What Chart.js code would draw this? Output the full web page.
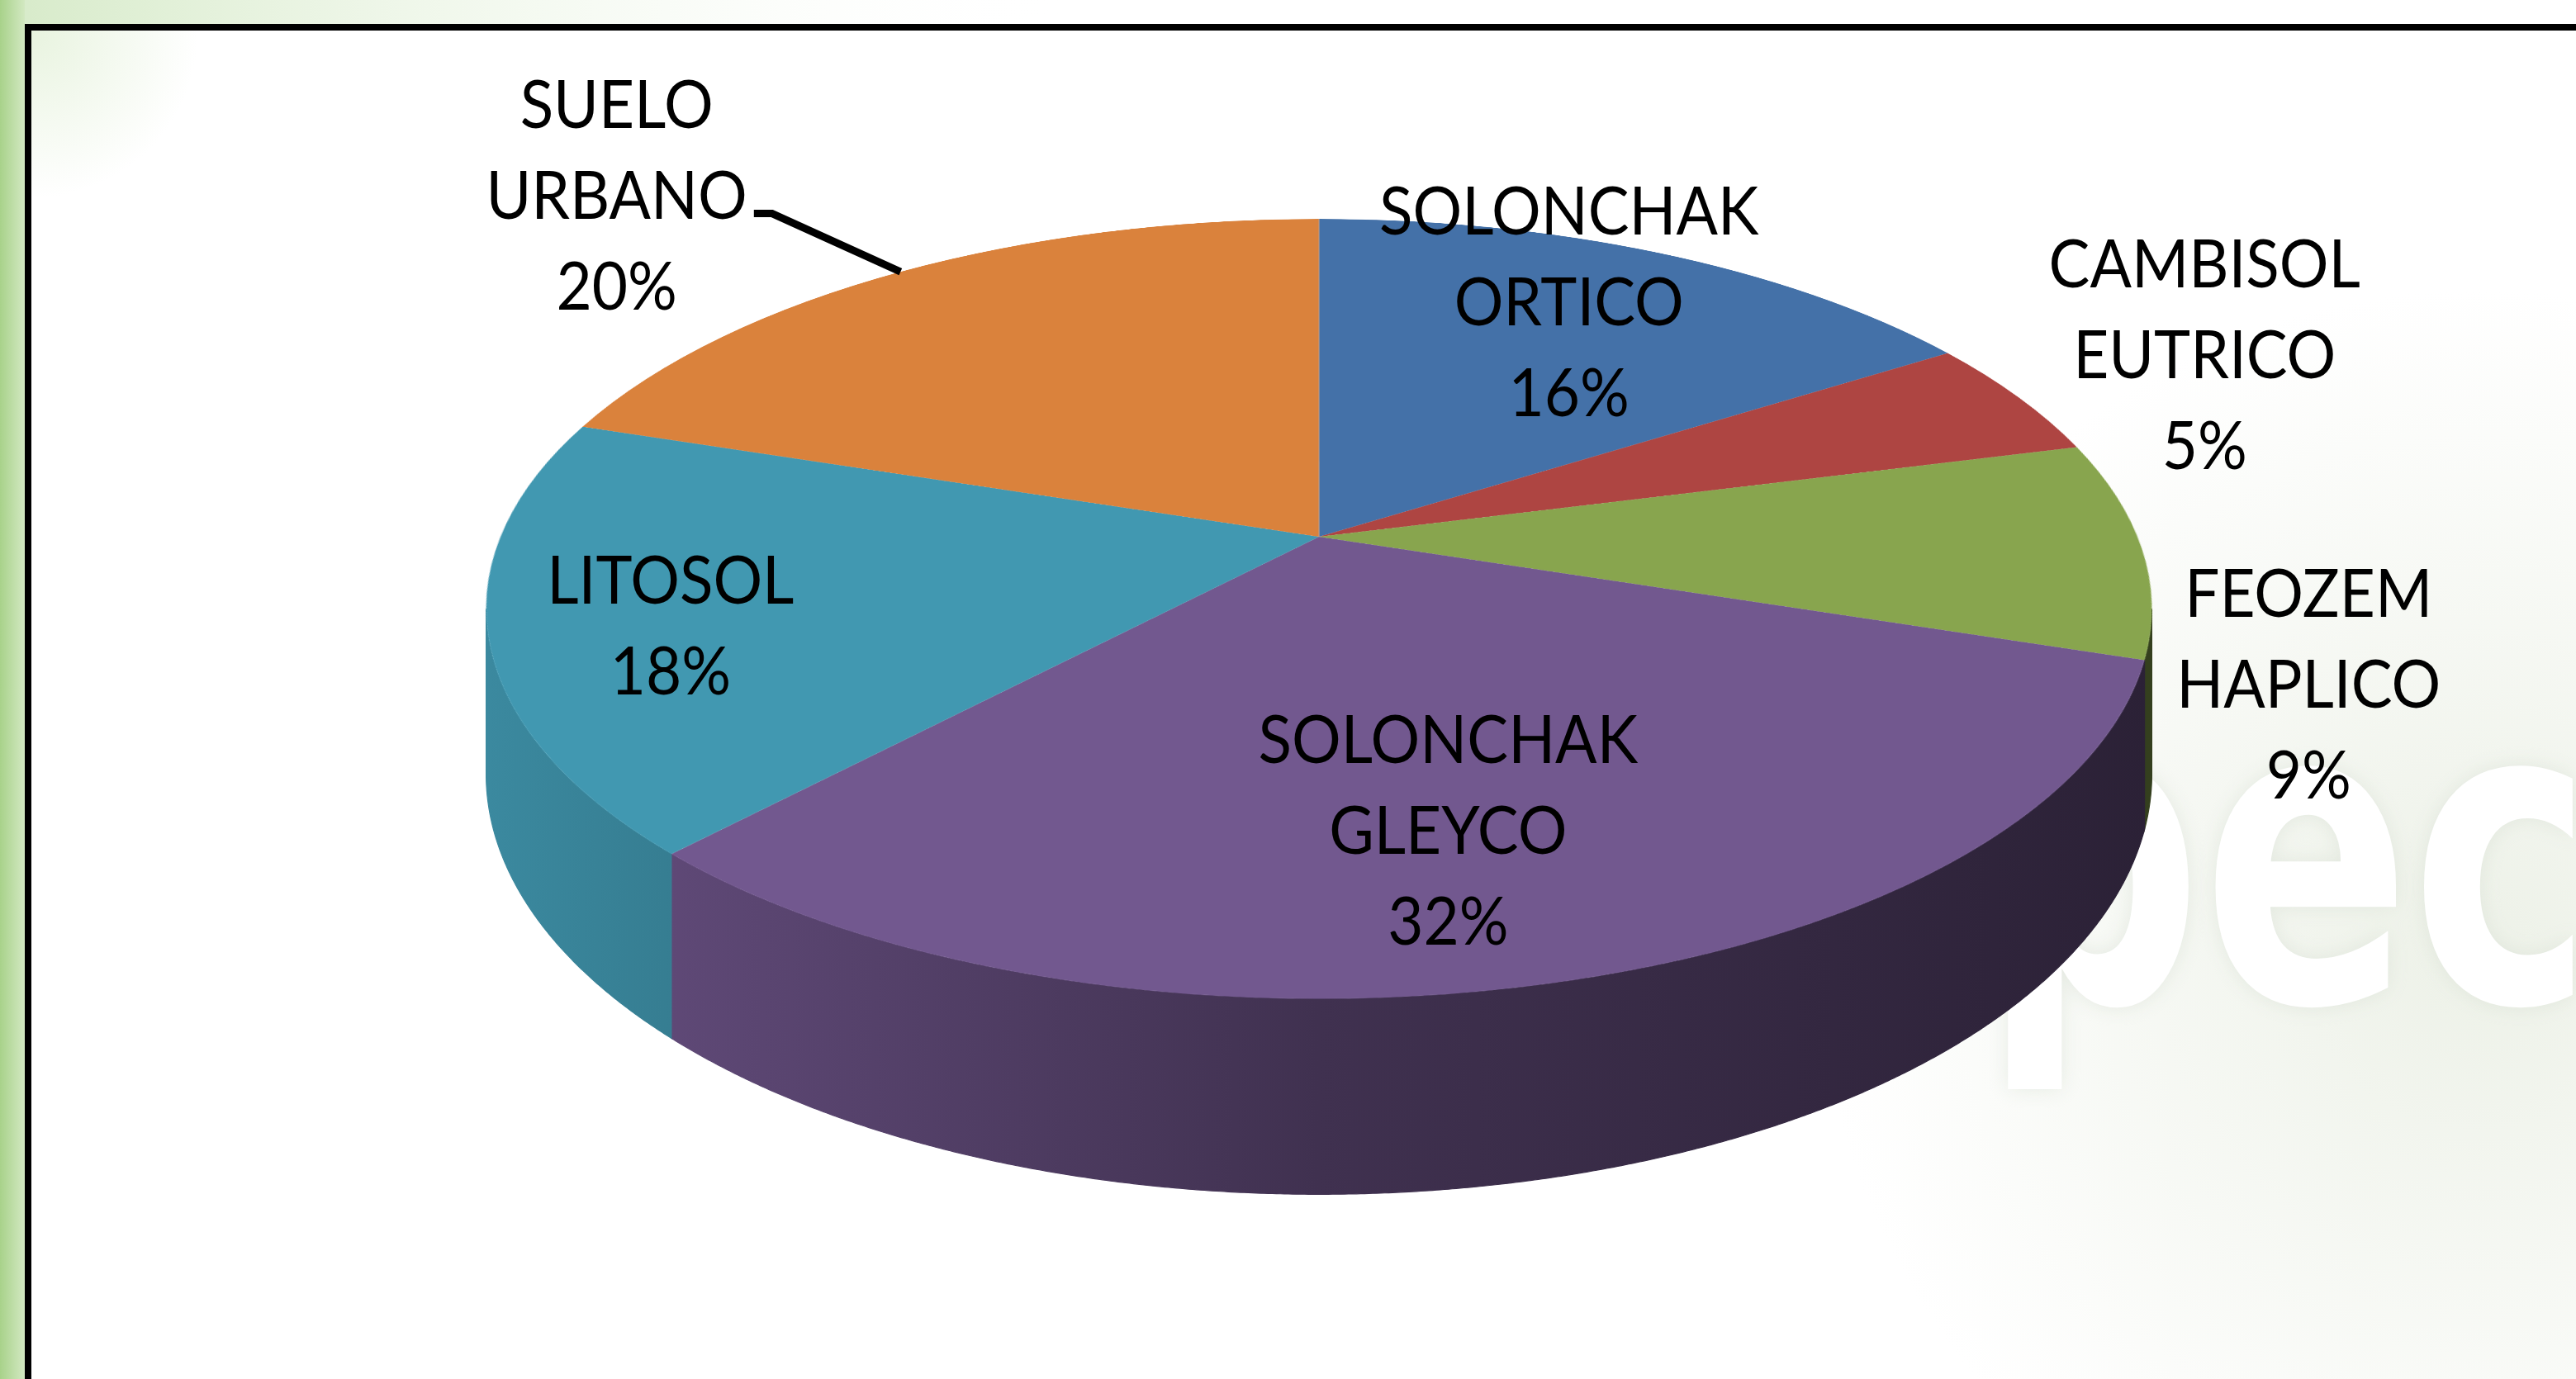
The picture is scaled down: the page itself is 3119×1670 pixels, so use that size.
<!DOCTYPE html>
<html>
<head>
<meta charset="utf-8">
<style>
  html, body { margin: 0; padding: 0; background: #ffffff; }
  #wrap { position: relative; width: 3119px; height: 1670px; overflow: hidden; }
  canvas { position: absolute; left: 0; top: 0; }
</style>
<script src="https://cdn.jsdelivr.net/npm/chart.js@4/dist/chart.umd.min.js"></script>
</head>
<body>
<div id="wrap"><canvas id="c" width="3119" height="1670"></canvas></div>
<script>
// ---------------- DATA ----------------
const categories = ['SOLONCHAK ORTICO', 'CAMBISOL EUTRICO', 'FEOZEM HAPLICO', 'SOLONCHAK GLEYCO', 'LITOSOL', 'SUELO URBANO'];
const labelLines = [['SOLONCHAK', 'ORTICO'], ['CAMBISOL', 'EUTRICO'], ['FEOZEM', 'HAPLICO'], ['SOLONCHAK', 'GLEYCO'], ['LITOSOL'], ['SUELO', 'URBANO']];
const percentages = [16, 5, 9, 32, 18, 20];

// ---------------- STYLE / LAYOUT ----------------
const sliceColors = ['#4471a8', '#ae4542', '#88a54e', '#72588f', '#4198b1', '#da823c'];
// perspective view of the pie: apex (cx, cy), radii, tilt k and side depth (screen px at w = 1)
const VIEW = { cx: 1597, cy: 650, rx: 991, ry: 456, k: 0.185, depth: 193 };
const FONT = '82px Lato, "Open Sans", sans-serif';
const TEXT_SCALE_X = 0.91;
const LINE_H = 110;
const labelOutside = [false, true, true, false, false, true];
const labelFactor = { inside: 0.65, outside: 1.25 };
const labelNudge = [[22, -47], [31, -11], [-49, 163], [-25, 33], [-142, 34], [-237, -23]];
const leaderFor = [false, false, false, false, false, true];

function shade(hex, f) {
  const n = parseInt(hex.slice(1), 16);
  const r = Math.round(((n >> 16) & 255) * f), g = Math.round(((n >> 8) & 255) * f), b = Math.round((n & 255) * f);
  return `rgb(${r},${g},${b})`;
}

// project a point of the (unit) pie disc, given by its angle and radial fraction, to the screen
function project(angle, f) {
  const u = f * Math.cos(angle), v = f * Math.sin(angle);
  const w = 1 - VIEW.k * v;
  return { x: VIEW.cx + VIEW.rx * u / w, y: VIEW.cy + VIEW.ry * v / w, w: w };
}

function paintBackground(ctx, W, H) {
  ctx.fillStyle = '#ffffff';
  ctx.fillRect(0, 0, W, H);
  let g = ctx.createRadialGradient(3000, 1150, 50, 3000, 1150, 800);
  g.addColorStop(0, 'rgba(238,242,233,1)');
  g.addColorStop(1, 'rgba(238,242,233,0)');
  ctx.fillStyle = g;
  ctx.fillRect(2000, 300, W - 2000, H - 300);
  ctx.save();
  ctx.fillStyle = '#ffffff';
  ctx.shadowColor = 'rgba(210,218,205,0.5)';
  ctx.shadowBlur = 26;
  ctx.font = 'bold 510px "DejaVu Sans", sans-serif';
  ctx.textBaseline = 'alphabetic';
  ctx.textAlign = 'left';
  ctx.translate(2400, 1213);
  ctx.scale(0.73, 1);
  ctx.fillText('pec', 0, 0);
  ctx.restore();
  g = ctx.createLinearGradient(0, 0, 34, 0);
  g.addColorStop(0, '#a8d28a');
  g.addColorStop(1, '#d8ebc9');
  ctx.fillStyle = g;
  ctx.fillRect(0, 0, 30, H);
  g = ctx.createLinearGradient(0, 0, 1300, 0);
  g.addColorStop(0, 'rgba(214,234,200,1)');
  g.addColorStop(1, 'rgba(255,255,255,0)');
  ctx.fillStyle = g;
  ctx.fillRect(30, 0, 1300, 30);
  g = ctx.createRadialGradient(40, 40, 0, 40, 40, 200);
  g.addColorStop(0, 'rgba(210,232,192,0.5)');
  g.addColorStop(1, 'rgba(210,232,192,0)');
  ctx.fillStyle = g;
  ctx.fillRect(36, 36, 240, 240);
  ctx.strokeStyle = '#000000';
  ctx.lineWidth = 8;
  ctx.strokeRect(34, 33, 3300, 1800);
}

const pie3d = {
  id: 'pie3d',
  afterDatasetsDraw(chart) {
    const ctx = chart.ctx;
    const W = chart.width, H = chart.height;
    const arcs = chart.getDatasetMeta(0).data;
    const a0 = arcs[0];
    const R = a0.outerRadius, ax = a0.x, ay = a0.y;

    // 1. keep the disc the library drew
    const off = document.createElement('canvas');
    off.width = W; off.height = H;
    off.getContext('2d').drawImage(chart.canvas, 0, 0);

    ctx.save();
    ctx.setTransform(1, 0, 0, 1, 0, 0);
    ctx.clearRect(0, 0, W, H);
    paintBackground(ctx, W, H);

    // 2. side walls, from the library's arc angles
    const k = VIEW.k;
    const silA = Math.asin(k), silB = Math.PI - Math.asin(k);
    const xL = VIEW.cx - VIEW.rx / Math.sqrt(1 - k * k), xR = VIEW.cx + VIEW.rx / Math.sqrt(1 - k * k);
    arcs.forEach((arc, i) => {
      const s = Math.max(arc.startAngle, silA), e = Math.min(arc.endAngle, silB);
      if (e <= s) return;
      const gr = ctx.createLinearGradient(xL, 0, xR, 0);
      gr.addColorStop(0, shade(sliceColors[i], 0.9));
      gr.addColorStop(0.5, shade(sliceColors[i], 0.56));
      gr.addColorStop(1, shade(sliceColors[i], 0.38));
      const n = Math.max(8, Math.ceil((e - s) / 0.004));
      const top = [], bot = [];
      for (let j = 0; j <= n; j++) {
        const a = s + (e - s) * j / n;
        const p = project(a, 1);
        top.push(p);
        bot.push({ x: p.x, y: p.y + VIEW.depth / p.w });
      }
      ctx.beginPath();
      top.forEach((p, j) => j ? ctx.lineTo(p.x, p.y) : ctx.moveTo(p.x, p.y));
      for (let j = bot.length - 1; j >= 0; j--) ctx.lineTo(bot[j].x, bot[j].y);
      ctx.closePath();
      ctx.fillStyle = gr;
      ctx.fill();
      ctx.strokeStyle = gr;
      ctx.lineWidth = 1.2;
      ctx.stroke();
    });

    // 3. top face: the library's disc seen in perspective (row by row)
    ctx.imageSmoothingEnabled = true;
    const yTop = Math.floor(VIEW.cy - VIEW.ry / (1 + k)) - 2;
    const yBot = Math.ceil(VIEW.cy + VIEW.ry / (1 - k)) + 2;
    const pad = 3;
    for (let y = yTop; y <= yBot; y++) {
      const t = y + 0.5 - VIEW.cy;
      const v = t / (VIEW.ry + k * t);
      if (v < -1.01 || v > 1.01) continue;
      const w = 1 - k * v;
      const sy = ay + v * R - 0.5;
      const half = (VIEW.rx / w) * (R + pad) / R;
      ctx.drawImage(off, ax - R - pad, sy, 2 * (R + pad), 1, VIEW.cx - half, y, 2 * half, 1);
    }
    ctx.restore();
  }
};

const labels3d = {
  id: 'labels3d',
  afterDraw(chart) {
    const ctx = chart.ctx;
    const arcs = chart.getDatasetMeta(0).data;
    const total = percentages.reduce((a, b) => a + b, 0);
    ctx.save();
    ctx.font = FONT;
    ctx.fillStyle = '#000000';
    ctx.textAlign = 'center';
    ctx.textBaseline = 'middle';
    arcs.forEach((arc, i) => {
      const mid = (arc.startAngle + arc.endAngle) / 2;
      const f = labelOutside[i] ? labelFactor.outside : labelFactor.inside;
      const p = project(mid, f);
      const cx = p.x + labelNudge[i][0];
      const cy = p.y + labelNudge[i][1];
      const lines = labelLines[i].concat([Math.round(percentages[i] / total * 100) + '%']);
      const y0 = cy - (lines.length - 1) * LINE_H / 2;
      lines.forEach((t, j) => {
        ctx.save();
        ctx.translate(cx, y0 + j * LINE_H);
        ctx.scale(TEXT_SCALE_X, 1);
        ctx.fillText(t, 0, 0);
        ctx.restore();
      });
      if (leaderFor[i]) {
        const li = lines.length - 2;
        const w = ctx.measureText(lines[li]).width * TEXT_SCALE_X;
        const sxp = cx + w / 2 + 8;
        const syp = y0 + li * LINE_H + 20;
        const rim = project(mid, 1.0);
        ctx.beginPath();
        ctx.moveTo(sxp, syp);
        ctx.lineTo(sxp + 22, syp);
        ctx.lineTo(rim.x, rim.y);
        ctx.strokeStyle = '#000000';
        ctx.lineWidth = 9;
        ctx.stroke();
      }
    });
    ctx.restore();
  }
};

new Chart(document.getElementById('c'), {
  type: 'pie',
  data: {
    labels: categories,
    datasets: [{
      data: percentages,
      backgroundColor: sliceColors,
      borderWidth: 0,
      hoverOffset: 0
    }]
  },
  options: {
    responsive: false,
    devicePixelRatio: 1,
    animation: false,
    events: [],
    layout: { padding: 0 },
    plugins: {
      legend: { display: false },
      tooltip: { enabled: false }
    }
  },
  plugins: [pie3d, labels3d]
});
</script>
</body>
</html>
